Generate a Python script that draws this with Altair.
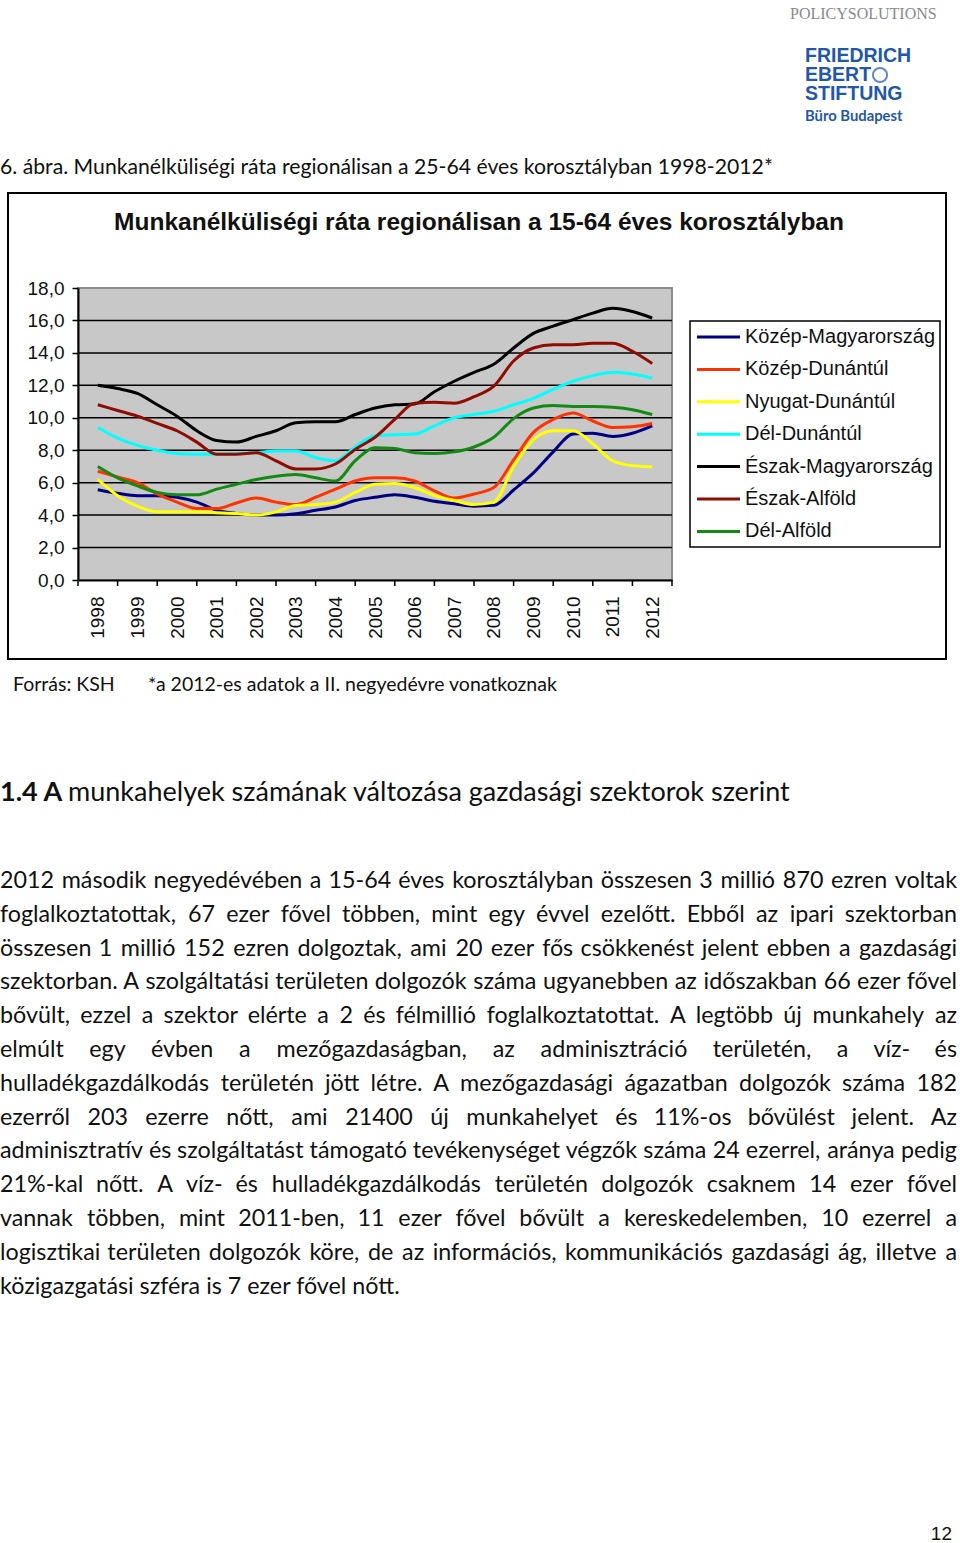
import altair as alt
import pandas as pd

# ---------------- page geometry (plot area inside the page) ----------------
LEFT, TOP = 78, 288
PW, PH = 594, 292
PAGE_W, PAGE_H = 960, 1543

# ---------------- data ----------------
periods = [1998.0 + 0.5 * i for i in range(29)]  # half-year positions 1998 .. 2012
years = list(range(1998, 2013))
y_ticks = [0, 2, 4, 6, 8, 10, 12, 14, 16, 18]
grid_values = [2, 4, 6, 8, 10, 12, 14, 16]

regions = ["Közép-Magyarország", "Közép-Dunántúl", "Nyugat-Dunántúl", "Dél-Dunántúl",
           "Észak-Magyarország", "Észak-Alföld", "Dél-Alföld"]
colors = ["#000080", "#FF3300", "#FFFF00", "#00FFFF", "#000000", "#8E0C00", "#138A13"]

kozep_magyarorszag = [5.57, 5.35, 5.2, 5.2, 5.1, 4.8, 4.3, 4.1, 4.0, 4.0, 4.08, 4.3, 4.5, 4.9, 5.1,
                      5.25, 5.1, 4.85, 4.7, 4.55, 4.6, 5.55, 6.6, 7.9, 9.0, 9.05, 8.85, 9.05, 9.5]
kozep_dunantul = [6.7, 6.35, 6.0, 5.3, 4.8, 4.4, 4.4, 4.75, 5.05, 4.8, 4.65, 5.1, 5.6, 6.1, 6.3,
                  6.3, 6.1, 5.5, 5.05, 5.3, 5.7, 7.4, 9.1, 9.9, 10.3, 9.8, 9.4, 9.45, 9.65]
nyugat_dunantul = [6.2, 5.2, 4.55, 4.2, 4.2, 4.2, 4.15, 4.1, 4.0, 4.2, 4.6, 4.65, 4.8, 5.4, 5.9,
                   5.95, 5.7, 5.2, 4.9, 4.65, 4.8, 7.0, 8.65, 9.2, 9.2, 8.4, 7.35, 7.05, 6.98]
del_dunantul = [9.4, 8.75, 8.3, 8.0, 7.8, 7.75, 7.75, 7.8, 7.85, 7.95, 7.95, 7.55, 7.35, 8.2, 8.9,
                8.95, 9.0, 9.5, 10.0, 10.2, 10.4, 10.8, 11.2, 11.75, 12.25, 12.6, 12.8, 12.7, 12.45]
eszak_magyarorszag = [12.0, 11.8, 11.5, 10.8, 10.1, 9.2, 8.6, 8.5, 8.85, 9.2, 9.7, 9.75, 9.75, 10.2, 10.6,
                      10.8, 10.85, 11.6, 12.25, 12.8, 13.3, 14.3, 15.2, 15.65, 16.05, 16.45, 16.75, 16.55, 16.15]
eszak_alfold = [10.8, 10.45, 10.1, 9.65, 9.2, 8.5, 7.75, 7.75, 7.85, 7.35, 6.85, 6.85, 7.15, 8.05, 8.8,
                9.9, 10.9, 10.95, 10.9, 11.3, 11.95, 13.5, 14.3, 14.5, 14.5, 14.6, 14.6, 14.1, 13.35]
del_alfold = [7.0, 6.3, 5.8, 5.4, 5.25, 5.25, 5.6, 5.9, 6.2, 6.4, 6.5, 6.3, 6.1, 7.35, 8.15,
              8.1, 7.85, 7.8, 7.9, 8.2, 8.8, 9.95, 10.6, 10.75, 10.7, 10.7, 10.65, 10.5, 10.2]

series = [kozep_magyarorszag, kozep_dunantul, nyugat_dunantul, del_dunantul,
          eszak_magyarorszag, eszak_alfold, del_alfold]

chart_title = "Munkanélküliségi ráta regionálisan a 15-64 éves korosztályban"
caption = "6. ábra. Munkanélküliségi ráta regionálisan a 25-64 éves korosztályban 1998-2012*"
source_note = "Forrás: KSH"
star_note = "*a 2012-es adatok a II. negyedévre vonatkoznak"
heading_num = "1.4 A"
heading_rest = "munkahelyek számának változása gazdasági szektorok szerint"
body_lines = [
    "2012 második negyedévében a 15-64 éves korosztályban összesen 3 millió 870 ezren voltak",
    "foglalkoztatottak, 67 ezer fővel többen, mint egy évvel ezelőtt. Ebből az ipari szektorban",
    "összesen 1 millió 152 ezren dolgoztak, ami 20 ezer fős csökkenést jelent ebben a gazdasági",
    "szektorban. A szolgáltatási területen dolgozók száma ugyanebben az időszakban 66 ezer fővel",
    "bővült, ezzel a szektor elérte a 2 és félmillió foglalkoztatottat. A legtöbb új munkahely az",
    "elmúlt egy évben a mezőgazdaságban, az adminisztráció területén, a víz- és",
    "hulladékgazdálkodás területén jött létre.  A mezőgazdasági ágazatban dolgozók száma 182",
    "ezerről 203 ezerre nőtt, ami 21400 új munkahelyet és 11%-os bővülést jelent. Az",
    "adminisztratív és szolgáltatást támogató tevékenységet végzők száma 24 ezerrel, aránya pedig",
    "21%-kal nőtt. A víz- és hulladékgazdálkodás területén dolgozók csaknem 14 ezer fővel",
    "vannak többen, mint 2011-ben, 11 ezer fővel bővült a kereskedelemben, 10 ezerrel a",
    "logisztikai területen dolgozók köre, de az információs, kommunikációs gazdasági ág, illetve a",
    "közigazgatási szféra is 7 ezer fővel nőtt.",
]
page_number = "12"

# ---------------- tables ----------------
rows = []
for r, vals in zip(regions, series):
    for p, v in zip(periods, vals):
        rows.append({"region": r, "period": p, "value": v})
df = pd.DataFrame(rows)

grid_df = pd.DataFrame({"v": grid_values})
bound_df = pd.DataFrame({"b": [y - 0.5 for y in years] + [years[-1] + 0.5]})
legend_df = pd.DataFrame({"region": regions, "idx": list(range(len(regions)))})
one = pd.DataFrame({"a": [0]})

# ---------------- justified body text layout (estimated Lato widths) ----------------
lw = dict(a=.51, b=.56, c=.46, d=.56, e=.52, f=.32, g=.50, h=.56, i=.24, j=.24, k=.50, l=.24, m=.84,
          n=.56, o=.56, p=.56, q=.56, r=.36, s=.42, t=.35, u=.56, v=.51, w=.78, x=.50, y=.51, z=.45)
uw = dict(A=.67, B=.62, C=.66, D=.73, E=.55, F=.53, G=.71, H=.74, I=.27, J=.38, K=.64, L=.49, M=.89,
          N=.74, O=.78, P=.58, Q=.78, R=.61, S=.51, T=.57, U=.71, V=.67, W=1.0, X=.64, Y=.61, Z=.59)
accents = {"á": "a", "é": "e", "í": "i", "ó": "o", "ö": "o", "ő": "o", "ú": "u", "ü": "u", "ű": "u",
           "É": "E", "Á": "A", "Ö": "O"}
punct = {".": .22, ",": .22, "-": .32, "%": .8, ":": .24, "*": .4, " ": .2}


def em(s):
    tot = 0.0
    for ch in s:
        c = accents.get(ch, ch)
        if c in lw:
            tot += lw[c]
        elif c in uw:
            tot += uw[c]
        elif c.isdigit():
            tot += .58
        else:
            tot += punct.get(c, .5)
    return tot


TEXT_W = 957
max_em = max(em(l) for l in body_lines[:-1])
BODY_SIZE = min(24.0, round(940.0 / max_em, 1))
BODY_Y0, BODY_STEP = 881, 33.8

w_left, w_center, w_right = [], [], []
for li, line in enumerate(body_lines):
    y = BODY_Y0 + li * BODY_STEP - TOP
    if li == len(body_lines) - 1:
        w_left.append({"px": -LEFT, "py": y, "t": line})
        continue
    words = line.split()
    widths = [em(w) * BODY_SIZE for w in words]
    gap = (TEXT_W - sum(widths)) / (len(words) - 1)
    x = 0.0
    for i, (w, wd) in enumerate(zip(words, widths)):
        if i == 0:
            w_left.append({"px": -LEFT, "py": y, "t": w})
        elif i == len(words) - 1:
            w_right.append({"px": TEXT_W - LEFT, "py": y, "t": w})
        else:
            w_center.append({"px": x + wd / 2 - LEFT, "py": y, "t": w})
        x += wd + gap

# ---------------- scales / axes ----------------
xscale = alt.Scale(domain=[1997.5, 2012.5], nice=False, zero=False)
yscale = alt.Scale(domain=[0, 18], nice=False, zero=True)
color_scale = alt.Scale(domain=regions, range=colors)

x_axis = alt.Axis(values=years, format="d", labelAngle=270, labelFont="Liberation Sans",
                  labelFontSize=19, labelColor="#111111", ticks=False, domainColor="black",
                  domainWidth=2, labelPadding=16, title=None, grid=False, labelFlush=False,
                  labelOverlap=False)
y_axis = alt.Axis(values=y_ticks, format=".1f", labelExpr="replace(datum.label, '.', ',')",
                  labelFont="Liberation Sans", labelFontSize=19, labelColor="#111111",
                  tickSize=6, tickColor="black", tickWidth=1.5, domainColor="black",
                  domainWidth=2, labelPadding=8, title=None, grid=False)

# ---------------- layers ----------------
grid = alt.Chart(grid_df).mark_rule(color="black", strokeWidth=1.5).encode(
    y=alt.Y("v:Q", scale=yscale, axis=y_axis), x=alt.value(0), x2=alt.value(PW))

ticks = alt.Chart(bound_df).mark_rule(color="black", strokeWidth=1.5).encode(
    x=alt.X("b:Q", scale=xscale, axis=x_axis), y=alt.value(PH), y2=alt.value(PH + 6))

lines = alt.Chart(df).mark_line(strokeWidth=3, interpolate="monotone").encode(
    x=alt.X("period:Q", scale=xscale, axis=x_axis),
    y=alt.Y("value:Q", scale=yscale, axis=y_axis),
    color=alt.Color("region:N", scale=color_scale, legend=None, sort=regions),
)

outer_box = alt.Chart(one).mark_rect(fill="white", fillOpacity=0, stroke="black", strokeWidth=2).encode(
    x=alt.value(8 - LEFT), x2=alt.value(946 - LEFT), y=alt.value(193 - TOP), y2=alt.value(659 - TOP))

legend_box = alt.Chart(one).mark_rect(fill="white", stroke="black", strokeWidth=1.5).encode(
    x=alt.value(690 - LEFT), x2=alt.value(940 - LEFT), y=alt.value(321 - TOP), y2=alt.value(547 - TOP))

legend_lines = alt.Chart(legend_df).mark_rule(strokeWidth=3).transform_calculate(
    ly="337 - 288 + datum.idx * 32.4").encode(
    y=alt.Y("ly:Q", scale=None), x=alt.value(697 - LEFT), x2=alt.value(740 - LEFT),
    color=alt.Color("region:N", scale=color_scale, legend=None))

legend_text = alt.Chart(legend_df).mark_text(
    align="left", baseline="middle", font="Liberation Sans", fontSize=20, color="#111111").transform_calculate(
    ly="337 - 288 + datum.idx * 32.4").encode(
    y=alt.Y("ly:Q", scale=None), x=alt.value(745 - LEFT), text="region:N")


def label(txt, x, y, align="left", **kw):
    return alt.Chart(one).mark_text(align=align, baseline="middle", **kw).encode(
        x=alt.value(x - LEFT), y=alt.value(y - TOP), text=alt.value(txt))


title_t = label(chart_title, 479, 223, align="center", font="Liberation Sans", fontSize=24.5,
                fontWeight="bold", color="#111111")
caption_t = label(caption, 0, 168, font="Lato", fontSize=21.2, color="#111111")
source_t = label(source_note, 13, 685, font="Lato", fontSize=19.5, color="#111111")
star_t = label(star_note, 148, 685, font="Lato", fontSize=19.5, color="#111111")
head1 = label(heading_num, 0, 793, font="Lato", fontSize=27, fontWeight="bold", color="#111111")
head2 = label(heading_rest, 68, 793, font="Lato", fontSize=27, color="#111111")
pagenum = label(page_number, 952, 1534, align="right", font="Liberation Sans", fontSize=19, color="#111111")

policy = label("POLICYSOLUTIONS", 790, 14, font="Liberation Serif", fontSize=16, color="#8a8a8a")
fes_color = "#2358A8"
fes1 = label("FRIEDRICH", 805, 56, font="Liberation Sans", fontSize=19.5, fontWeight="bold", color=fes_color)
fes2 = label("EBERT", 805, 75, font="Liberation Sans", fontSize=19.5, fontWeight="bold", color=fes_color)
fes3 = label("STIFTUNG", 805, 94, font="Liberation Sans", fontSize=19.5, fontWeight="bold", color=fes_color)
globe = alt.Chart(one).mark_point(shape="circle", filled=False, size=200, strokeWidth=2, color=fes_color).encode(
    x=alt.value(880 - LEFT), y=alt.value(75 - TOP))
buro = label("Büro Budapest", 805, 117, font="Lato", fontSize=14.8, fontWeight="bold", color=fes_color)


def word_layer(rows_, align):
    d = pd.DataFrame(rows_ if rows_ else [{"px": 0, "py": 0, "t": ""}])
    return alt.Chart(d).mark_text(align=align, baseline="middle", font="Lato",
                                  fontSize=BODY_SIZE, color="#111111").encode(
        x=alt.X("px:Q", scale=None), y=alt.Y("py:Q", scale=None), text="t:N")


body_l = word_layer(w_left, "left")
body_c = word_layer(w_center, "center")
body_r = word_layer(w_right, "right")

chart = alt.layer(
    outer_box, grid, ticks, lines, legend_box, legend_lines, legend_text,
    title_t, caption_t, source_t, star_t, head1, head2, pagenum,
    policy, fes1, fes2, fes3, globe, buro,
    body_l, body_c, body_r,
).properties(
    width=PW, height=PH,
    padding={"left": LEFT, "top": TOP, "right": PAGE_W - LEFT - PW, "bottom": PAGE_H - TOP - PH},
    autosize="none", background="white",
).configure_view(fill="#C8C8C8", stroke="#8C8C8C", strokeWidth=2)

chart.save("out.html", embed_options={"renderer": "svg", "actions": False})
